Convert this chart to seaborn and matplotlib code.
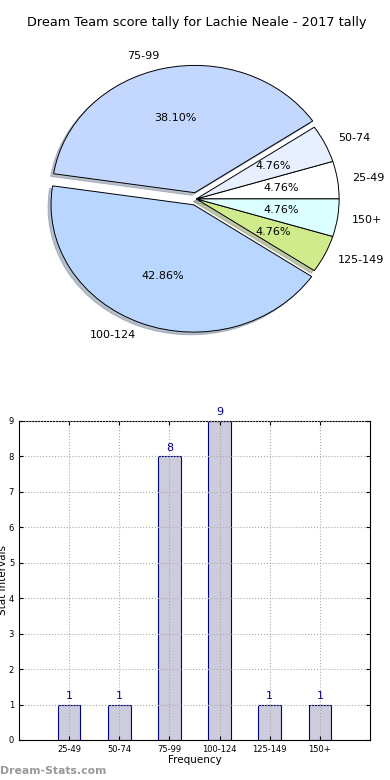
import pandas as pd
import matplotlib
matplotlib.use("Agg")
import matplotlib.pyplot as plt
import seaborn as sns

# ── Data ──────────────────────────────────────────────────────────────────────
ranges = ["25-49", "50-74", "75-99", "100-124", "125-149", "150+"]
counts = [1, 1, 8, 9, 1, 1]
pie_colors = ["#ffffff", "#e8f0ff", "#c4d8ff", "#b8d6ff", "#cfeb8c", "#dcffff"]
explode = [0, 0, 0.05, 0.05, 0, 0]

player = "Lachie Neale"
season = "2017"

df = pd.DataFrame({"range": ranges, "count": counts})

fig = plt.figure(figsize=(3.9, 7.8), dpi=100)

# ── Pie ───────────────────────────────────────────────────────────────────────
ax1 = fig.add_axes([0.046, 0.541, 0.915, 0.408])
ax1.pie(counts, labels=ranges, colors=pie_colors, explode=explode,
        autopct="%1.2f%%", startangle=0, labeldistance=1.1,
        shadow={"ox": -0.015, "oy": -0.015, "shade": 0.4},
        pctdistance=0.6, textprops={"fontsize": 8},
        wedgeprops={"edgecolor": "black", "linewidth": 0.7})
ax1.set_aspect("auto")
ax1.set_xlim(-1.25, 1.25)
ax1.set_ylim(-1.25, 1.25)
ax1.set_title(f"Dream Team score tally for {player} - {season} tally",
              fontsize=9.3, pad=10)

# ── Bars ──────────────────────────────────────────────────────────────────────
ax2 = fig.add_axes([0.0487, 0.0513, 0.9, 0.409])
sns.barplot(data=df, x="range", y="count", ax=ax2, width=0.45,
            color="#ccccdd", edgecolor="navy", linewidth=0.8, saturation=1)
for i, c in enumerate(counts):
    ax2.text(i, c + 0.1, str(c), ha="center", va="bottom",
             color="navy", fontsize=8)
ax2.set_xlim(-1, len(ranges))
ax2.set_ylim(0, 9)
ax2.set_yticks(range(10))
ax2.grid(True, color="#aaaaaa", linestyle=":", linewidth=0.8)
ax2.set_axisbelow(False)
ax2.tick_params(labelsize=6, direction="in", top=True, right=True, length=3)
ax2.set_xlabel("Frequency", fontsize=7.5, labelpad=1)
ax2.set_ylabel("Stat Intervals", fontsize=7.5)
ax2.yaxis.set_label_coords(-0.03, 0.5)
for s in ax2.spines.values():
    s.set_linewidth(0.8)

fig.text(0.0, 0.005, "Dream-Stats.com", fontsize=7.8, color="#999999",
         fontweight="bold", ha="left", va="bottom")

fig.savefig("out.png", dpi=100)
